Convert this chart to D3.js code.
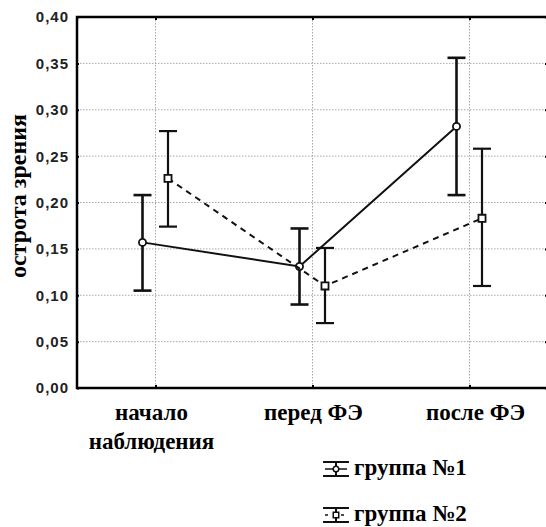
<!DOCTYPE html>
<html>
<head>
<meta charset="utf-8">
<script src="https://cdnjs.cloudflare.com/ajax/libs/d3/7.8.5/d3.min.js"></script>
<style>
  body { margin: 0; background: #fff; }
</style>
</head>
<body>
<script>
var categories = ["начало наблюдения", "перед ФЭ", "после ФЭ"];
var groups = ["группа №1", "группа №2"];
var g1Mean = [0.157, 0.131, 0.282];
var g1Low  = [0.105, 0.090, 0.208];
var g1High = [0.208, 0.172, 0.356];
var g2Mean = [0.226, 0.110, 0.183];
var g2Low  = [0.174, 0.070, 0.110];
var g2High = [0.277, 0.151, 0.258];
var yTicks = [0, 0.05, 0.10, 0.15, 0.20, 0.25, 0.30, 0.35, 0.40];

var width = 546, height = 527;
var margin = {top: 17, right: -2, bottom: 139, left: 77};
var plotW = width - margin.left - margin.right,
    plotH = height - margin.top - margin.bottom;
var serif = "Liberation Serif";
var sans = "Liberation Sans";

var svg = d3.select("body").append("svg")
  .attr("width", width)
  .attr("height", height);

var g = svg.append("g")
  .attr("transform", "translate(" + margin.left + "," + margin.top + ")");

var xScale = d3.scalePoint()
  .domain(categories)
  .range([0, plotW])
  .padding(0.5);
var offset = d3.scalePoint()
  .domain(groups)
  .range([-13, 12.5]);
var yScale = d3.scaleLinear()
  .domain([0, 0.4])
  .range([plotH, 0]);

var fmt = function(d) { return d3.format(".2f")(d).replace(".", ","); };

// grid
var grid = g.append("g")
  .attr("stroke", "#a8a8a8")
  .attr("stroke-dasharray", "1.5,1.5");
grid.selectAll("line.h").data(yTicks.slice(1, -1)).enter().append("line")
  .attr("class", "h")
  .attr("x1", 0).attr("x2", plotW)
  .attr("y1", function(d) { return yScale(d); })
  .attr("y2", function(d) { return yScale(d); });
grid.selectAll("line.v").data(categories).enter().append("line")
  .attr("class", "v")
  .attr("y1", 0).attr("y2", plotH)
  .attr("x1", function(d) { return xScale(d); })
  .attr("x2", function(d) { return xScale(d); });

// axes (inner tick dots)
var axL = g.append("g").call(d3.axisRight(yScale).tickValues(yTicks).tickSize(2).tickFormat(""));
var axR = g.append("g").attr("transform", "translate(" + plotW + ",0)")
  .call(d3.axisLeft(yScale).tickValues(yTicks).tickSize(3).tickFormat(""));
var axT = g.append("g").call(d3.axisBottom(xScale).tickSize(3).tickFormat(""));
var axB = g.append("g").attr("transform", "translate(0," + plotH + ")")
  .call(d3.axisTop(xScale).tickSize(3).tickFormat(""));
[axL, axR, axT, axB].forEach(function(a) {
  a.select(".domain").remove();
  a.selectAll(".tick line").attr("stroke", "#000").attr("stroke-width", 2);
});

// frame
g.append("rect")
  .attr("x", 0).attr("y", 0).attr("width", plotW).attr("height", plotH)
  .attr("fill", "none").attr("stroke", "#000").attr("stroke-width", 2.5);

// y tick labels
g.append("g").selectAll("text").data(yTicks).enter().append("text")
  .attr("font-family", sans)
  .attr("font-weight", "bold")
  .attr("font-size", 15)
  .attr("x", -8)
  .attr("y", function(d) { return yScale(d); })
  .attr("dy", "0.36em")
  .attr("text-anchor", "end")
  .attr("letter-spacing", "1px")
  .attr("fill", "#222")
  .text(fmt);

// y label
svg.append("text")
  .attr("font-family", serif)
  .attr("font-weight", "bold")
  .attr("font-size", 24)
  .attr("transform", "translate(26,196) rotate(-90)")
  .attr("text-anchor", "middle")
  .text("острота зрения");

// x labels
var catLbl = g.append("g").selectAll("text").data(categories).enter().append("text")
  .attr("font-family", serif)
  .attr("font-weight", "bold")
  .attr("font-size", 23)
  .attr("text-anchor", "middle")
  .attr("x", function(d, i) { return xScale(d) + [-4, 1, 6][i]; })
  .attr("y", plotH + 32);
catLbl.each(function(d) {
  var t = d3.select(this);
  var words = d === categories[0] ? d.split(" ") : [d];
  words.forEach(function(w, i) {
    t.append("tspan").attr("x", t.attr("x")).attr("dy", i ? 29 : 0).text(w);
  });
});

var series = [
  {name: groups[0], mean: g1Mean, lo: g1Low, hi: g1High, dash: null, sym: d3.symbolCircle, size: 40, eb: 2.6},
  {name: groups[1], mean: g2Mean, lo: g2Low, hi: g2High, dash: "6,5", sym: d3.symbolSquare, size: 50, eb: 2.2}
];

series.forEach(function(s) {
  var pts = categories.map(function(c, i) {
    return {x: xScale(c) + offset(s.name), m: s.mean[i], lo: s.lo[i], hi: s.hi[i]};
  });
  var line = d3.line()
    .x(function(d) { return d.x; })
    .y(function(d) { return yScale(d.m); });
  g.append("path")
    .attr("d", line(pts))
    .attr("fill", "none")
    .attr("stroke", "#111")
    .attr("stroke-width", 2)
    .attr("stroke-dasharray", s.dash);

  var eb = g.append("g").selectAll("g").data(pts).enter().append("g")
    .attr("stroke", "#111").attr("stroke-width", s.eb);
  eb.append("line")
    .attr("x1", function(d) { return d.x; }).attr("x2", function(d) { return d.x; })
    .attr("y1", function(d) { return yScale(d.lo); })
    .attr("y2", function(d) { return yScale(d.hi); });
  ["lo", "hi"].forEach(function(k) {
    eb.append("line")
      .attr("x1", function(d) { return d.x - 9; }).attr("x2", function(d) { return d.x + 9; })
      .attr("y1", function(d) { return yScale(d[k]); })
      .attr("y2", function(d) { return yScale(d[k]); });
  });

  g.append("g").selectAll("path").data(pts).enter().append("path")
    .attr("d", d3.symbol().type(s.sym).size(s.size))
    .attr("transform", function(d) { return "translate(" + d.x + "," + yScale(d.m) + ")"; })
    .attr("fill", "#fff")
    .attr("stroke", "#111")
    .attr("stroke-width", 1.8);
});

// legend
var legend = svg.append("g")
  .selectAll("g").data(series).enter().append("g")
  .attr("transform", function(d, i) { return "translate(336," + (469 + i * 46) + ")"; });
legend.append("line").attr("x1", -13).attr("x2", 13).attr("y1", -7).attr("y2", -7)
  .attr("stroke", "#111").attr("stroke-width", 2);
legend.append("line").attr("x1", -13).attr("x2", 13).attr("y1", 7).attr("y2", 7)
  .attr("stroke", "#111").attr("stroke-width", 2);
legend.append("line").attr("x1", 0).attr("x2", 0).attr("y1", -7).attr("y2", 7)
  .attr("stroke", "#111").attr("stroke-width", 2);
legend.append("line").attr("x1", -11).attr("x2", 11).attr("y1", 0).attr("y2", 0)
  .attr("stroke", "#111").attr("stroke-width", 1.5)
  .attr("stroke-dasharray", function(d) { return d.dash ? "3,5" : null; });
legend.append("path")
  .attr("d", function(d) { return d3.symbol().type(d.sym).size(d.size * 0.6)(); })
  .attr("fill", "#fff").attr("stroke", "#111").attr("stroke-width", 1.5);
legend.append("text")
  .attr("font-family", serif)
  .attr("font-weight", "bold")
  .attr("font-size", 23)
  .attr("x", 18).attr("y", 6)
  .text(function(d) { return d.name; });
</script>
</body>
</html>
